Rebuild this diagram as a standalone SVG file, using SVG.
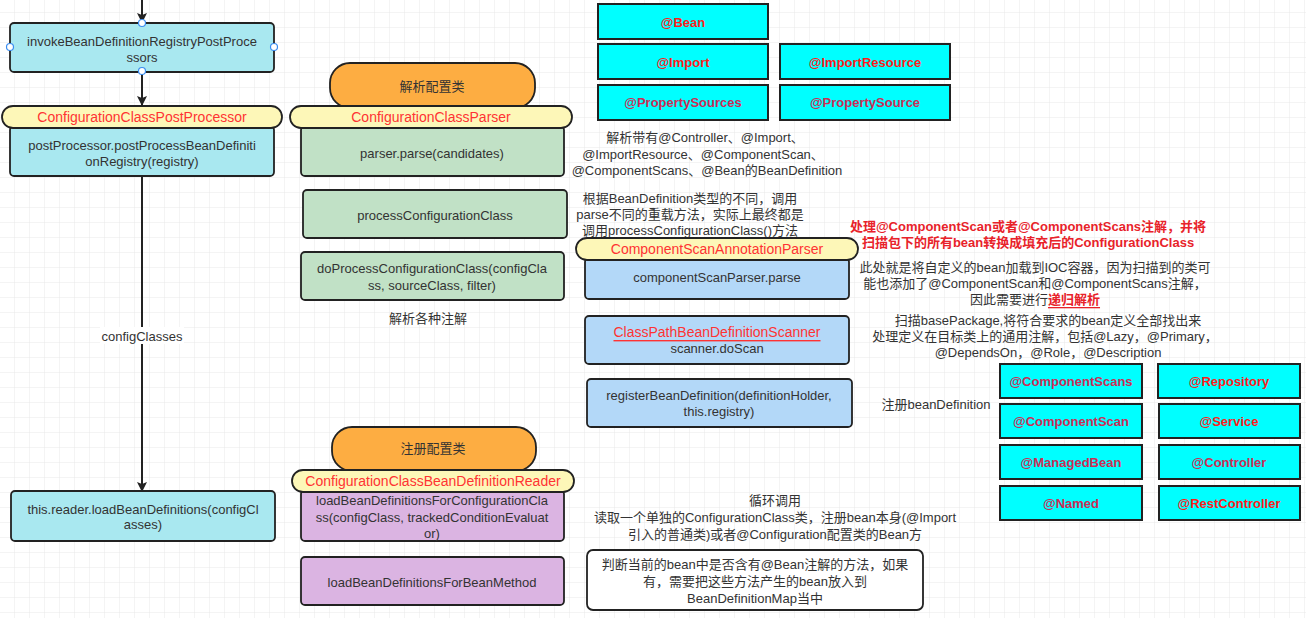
<svg xmlns="http://www.w3.org/2000/svg" width="1306" height="618" viewBox="0 0 1306 618">
<defs>
<pattern id="g" x="0" y="-2" width="15" height="15" patternUnits="userSpaceOnUse">
<path d="M15 0V15M0 15H15" fill="none" stroke="#e8e8e8" stroke-width="1"/>
</pattern>
<marker id="ah" viewBox="0 0 10 10" refX="9" refY="5" markerWidth="10" markerHeight="12" markerUnits="userSpaceOnUse" orient="auto">
<path d="M0 0L10 5L0 10L2 5Z" fill="#222"/>
</marker>
</defs>
<style>
text{font-family:"Liberation Sans","Noto Sans CJK SC",sans-serif;font-size:13px;fill:#333;text-anchor:middle;dominant-baseline:central}
.box{stroke:#222;stroke-width:1.8}
.cyan{fill:#a9e8f0}
.green{fill:#c1e1c6}
.blue{fill:#b3d8f8}
.purple{fill:#dbb4e2}
.pill{fill:#fdf7b8;stroke:#222;stroke-width:1.8}
.orange{fill:#fdad42;stroke:#222;stroke-width:1.8}
.tag{fill:#00ffff;stroke:#222;stroke-width:2}
.red{fill:#f33;font-size:14px}
.tr{fill:#ff1a1a;font-weight:bold}
.tc{fill:#cc2c55;font-weight:bold}
.rb{fill:#e8222a;font-weight:bold}
.dot{fill:#fff;stroke:#3b8df0;stroke-width:1.2}
</style>
<rect width="1306" height="618" fill="#fff"/>
<rect width="1306" height="618" fill="url(#g)"/>

<g id="connectors" stroke="#222" stroke-width="2" fill="none">
<line x1="142" y1="0" x2="142" y2="22" marker-end="url(#ah)"/>
<line x1="142" y1="72" x2="142" y2="105" marker-end="url(#ah)"/>
<line x1="142" y1="176" x2="142" y2="491" marker-end="url(#ah)"/>
</g>
<g id="label-configClasses">
<rect x="100" y="327" width="84" height="17" fill="#fff"/>
<text x="142" y="336">configClasses</text>
</g>

<g id="n-invoke">
<rect class="box cyan" x="10" y="23" width="264" height="49" rx="4"/>
<text x="142" y="41">invokeBeanDefinitionRegistryPostProce</text>
<text x="142" y="57">ssors</text>
<circle class="dot" cx="142" cy="23" r="3.5"/>
<circle class="dot" cx="10" cy="47" r="3.5"/>
<circle class="dot" cx="274" cy="47" r="3.5"/>
<circle class="dot" cx="142" cy="71" r="3.5"/>
</g>

<g id="n-ccpp">
<rect class="box cyan" x="10" y="126" width="264" height="50" rx="4"/>
<rect class="pill" x="2" y="106" width="280" height="22" rx="11"/>
<text class="red" x="142" y="117">ConfigurationClassPostProcessor</text>
<text x="142" y="145">postProcessor.postProcessBeanDefiniti</text>
<text x="142" y="161">onRegistry(registry)</text>
</g>

<g id="n-load">
<rect class="box cyan" x="11" y="491" width="264" height="50" rx="4"/>
<text x="143" y="509">this.reader.loadBeanDefinitions(configCl</text>
<text x="143" y="524">asses)</text>
</g>

<g id="n-parse-title">
<rect class="orange" x="330" y="63" width="205" height="45" rx="20"/>
<text x="432" y="86">解析配置类</text>
</g>
<g id="n-parse">
<rect class="box green" x="301" y="126" width="263" height="50" rx="4"/>
<rect class="pill" x="290" y="106" width="282" height="22" rx="11"/>
<text class="red" x="431" y="117">ConfigurationClassParser</text>
<text x="432" y="153">parser.parse(candidates)</text>
</g>
<g id="n-pcc">
<rect class="box green" x="303" y="190" width="264" height="48" rx="4"/>
<text x="435" y="215">processConfigurationClass</text>
</g>
<g id="n-dpcc">
<rect class="box green" x="301" y="252" width="263" height="48" rx="4"/>
<text x="432" y="268">doProcessConfigurationClass(configCla</text>
<text x="432" y="285">ss, sourceClass, filter)</text>
</g>
<g id="t-annot">
<text x="428" y="318">解析各种注解</text>
</g>

<g id="n-reg-title">
<rect class="orange" x="332" y="427" width="204" height="44" rx="20"/>
<text x="433" y="448">注册配置类</text>
</g>
<g id="n-lbdfcc">
<rect class="box purple" x="301" y="490" width="263" height="51" rx="4"/>
<rect class="pill" x="292" y="470" width="282" height="22" rx="11"/>
<text class="red" x="433" y="481">ConfigurationClassBeanDefinitionReader</text>
<text x="432" y="500">loadBeanDefinitionsForConfigurationCla</text>
<text x="432" y="517">ss(configClass, trackedConditionEvaluat</text>
<text x="432" y="533">or)</text>
</g>
<g id="n-lbdfbm">
<rect class="box purple" x="301" y="557" width="263" height="48" rx="4"/>
<text x="432" y="582">loadBeanDefinitionsForBeanMethod</text>
</g>

<g id="tags-top">
<rect class="tag" x="598" y="4" width="170" height="35"/>
<text class="tr" x="683" y="22">@Bean</text>
<rect class="tag" x="598" y="44" width="170" height="35"/>
<text class="tr" x="683" y="62">@Import</text>
<rect class="tag" x="780" y="44" width="170" height="35"/>
<text class="tr" x="865" y="62">@ImportResource</text>
<rect class="tag" x="598" y="85" width="170" height="35"/>
<text class="tc" x="683" y="102">@PropertySources</text>
<rect class="tag" x="780" y="85" width="170" height="35"/>
<text class="tc" x="865" y="102">@PropertySource</text>
</g>

<g id="t-parse-desc">
<text x="705" y="137">解析带有@Controller、@Import、</text>
<text x="703" y="154">@ImportResource、@ComponentScan、</text>
<text x="707" y="170">@ComponentScans、@Bean的BeanDefinition</text>
</g>
<g id="t-pcc-desc">
<text x="690" y="198">根据BeanDefinition类型的不同，调用</text>
<text x="690" y="214">parse不同的重载方法，实际上最终都是</text>
<text x="690" y="230">调用processConfigurationClass()方法</text>
</g>

<g id="n-csap">
<rect class="box blue" x="585" y="258" width="264" height="41" rx="4"/>
<rect class="pill" x="576" y="238" width="282" height="22" rx="11"/>
<text class="red" x="717" y="249">ComponentScanAnnotationParser</text>
<text x="717" y="277">componentScanParser.parse</text>
</g>
<g id="n-scanner">
<rect class="box blue" x="585" y="316" width="264" height="48" rx="4"/>
<text class="red" x="717" y="332" text-decoration="underline">ClassPathBeanDefinitionScanner</text>
<text x="717" y="348">scanner.doScan</text>
</g>
<g id="n-register">
<rect class="box blue" x="587" y="379" width="265" height="48" rx="4"/>
<text x="719" y="395">registerBeanDefinition(definitionHolder,</text>
<text x="719" y="411">this.registry)</text>
</g>

<g id="t-cs-red">
<text class="rb" x="1028" y="226">处理@ComponentScan或者@ComponentScans注解，并将</text>
<text class="rb" x="1028" y="242">扫描包下的所有bean转换成填充后的ConfigurationClass</text>
</g>
<g id="t-cs-desc">
<text x="1035" y="267">此处就是将自定义的bean加载到IOC容器，因为扫描到的类可</text>
<text x="1035" y="283">能也添加了@ComponentScan和@ComponentScans注解，</text>
<text x="1035" y="299">因此需要进行<tspan class="rb" text-decoration="underline">递归解析</tspan></text>
</g>
<g id="t-scan-desc">
<text x="1048" y="320">扫描basePackage,将符合要求的bean定义全部找出来</text>
<text x="1045" y="336">处理定义在目标类上的通用注解，包括@Lazy，@Primary，</text>
<text x="1048" y="352">@DependsOn，@Role，@Description</text>
</g>
<g id="t-reg-desc">
<text x="936" y="404">注册beanDefinition</text>
</g>

<g id="tags-bottom">
<rect class="tag" x="1000" y="364" width="142" height="34"/>
<text class="tc" x="1071" y="381">@ComponentScans</text>
<rect class="tag" x="1158" y="364" width="142" height="34"/>
<text class="tr" x="1229" y="381">@Repository</text>
<rect class="tag" x="1000" y="404" width="142" height="34"/>
<text class="tc" x="1071" y="421">@ComponentScan</text>
<rect class="tag" x="1159" y="404" width="141" height="34"/>
<text class="tr" x="1229" y="421">@Service</text>
<rect class="tag" x="1000" y="445" width="142" height="34"/>
<text class="tc" x="1071" y="462">@ManagedBean</text>
<rect class="tag" x="1159" y="445" width="141" height="34"/>
<text class="tc" x="1229" y="462">@Controller</text>
<rect class="tag" x="1000" y="486" width="142" height="34"/>
<text class="tc" x="1071" y="503">@Named</text>
<rect class="tag" x="1159" y="486" width="141" height="34"/>
<text class="tr" x="1229" y="503">@RestController</text>
</g>

<g id="t-loop">
<text x="775" y="500">循环调用</text>
<text x="775" y="517">读取一个单独的ConfigurationClass类，注册bean本身(@Import</text>
<text x="775" y="534">引入的普通类)或者@Configuration配置类的Bean方</text>
</g>
<g id="n-beanmethod-note">
<rect x="587" y="550" width="336" height="60" rx="6" fill="#fff" stroke="#222" stroke-width="1.8"/>
<text x="755" y="564">判断当前的bean中是否含有@Bean注解的方法，如果</text>
<text x="755" y="581">有，需要把这些方法产生的bean放入到</text>
<text x="755" y="598">BeanDefinitionMap当中</text>
</g>
</svg>
